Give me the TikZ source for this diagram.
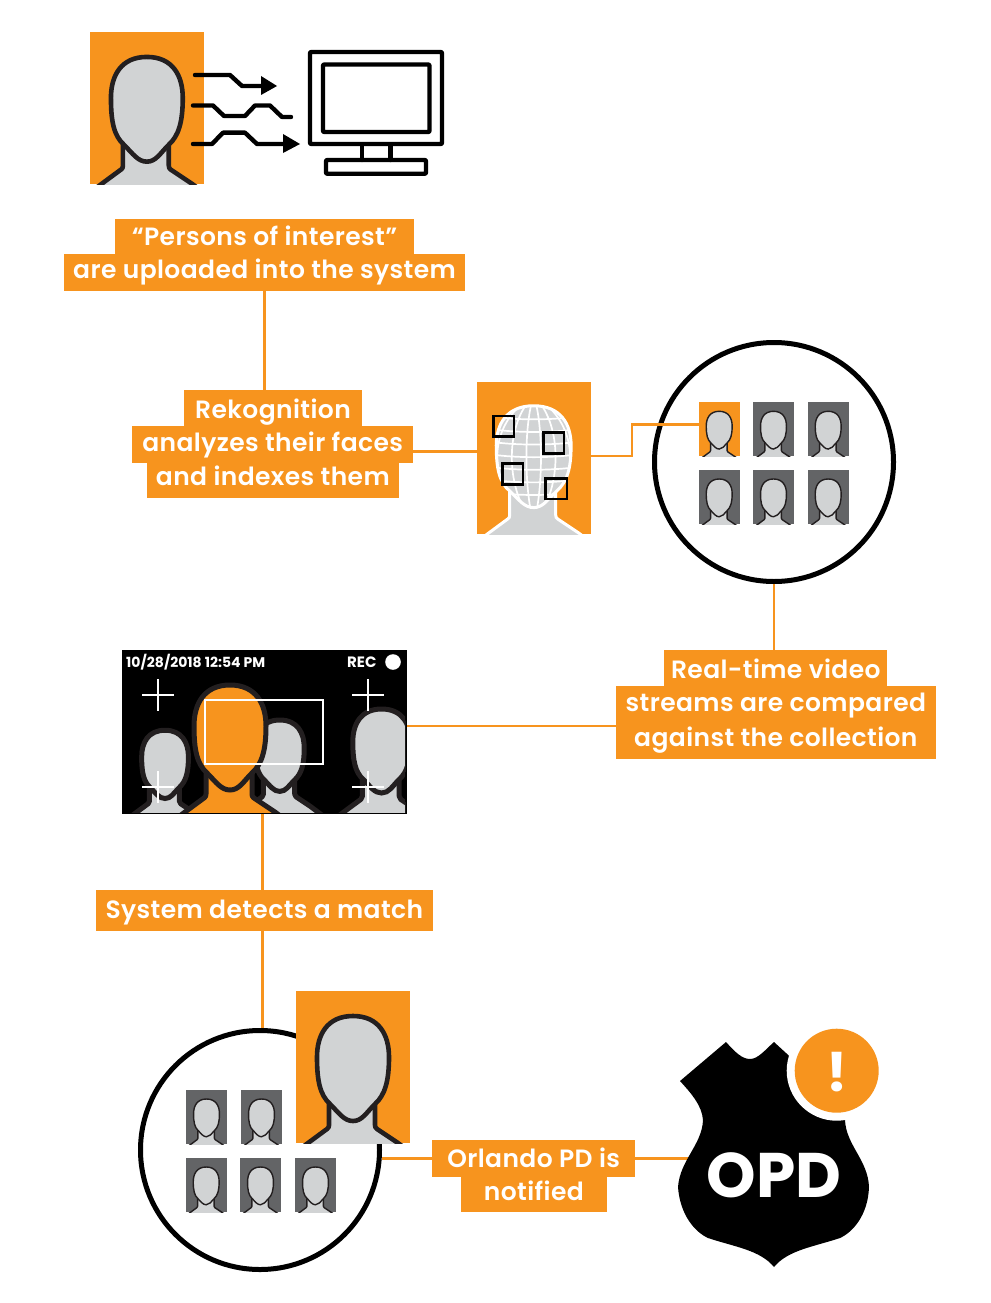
\documentclass[tikz,border=0pt]{standalone}
\usepackage{fontspec}
\setmainfont{Poppins}
\newfontfamily\labfont{Poppins}[UprightFont=* SemiBold,LetterSpace=1.6]
\newfontfamily\boldfont{Poppins}[BoldFont={* Bold}]
\definecolor{org}{HTML}{F7941E}
\definecolor{lgray}{HTML}{D1D3D4}
\definecolor{dgray}{HTML}{636466}
\definecolor{ink}{HTML}{231F20}
\tikzset{
  facepath/.style={insert path={(57,25) .. controls (83,25) and (93,44) .. (93,66) .. controls (93,90) and (89,104) .. (79,113) .. controls (70,122) and (66,130) .. (57,130) .. controls (48,130) and (43,122) .. (34,113) .. controls (24,104) and (21,90) .. (21,66) .. controls (21,44) and (31,25) .. (57,25) -- cycle}},
  bodypath/.style={insert path={(-12,170) -- (12,152) -- (31,138) .. controls (32.5,137) and (33,136) .. (33,134) -- (33,108) -- (79,108) -- (79,134) .. controls (79,136) and (79.5,137) .. (81,138) -- (102,152) -- (126,170)}},
  labelbox/.style={fill=org,text=white,inner sep=0pt,outer sep=0pt,text depth=8pt,font=\labfont\fontsize{25}{30}\selectfont},
  imgbox/.style={inner sep=0pt,outer sep=0pt,anchor=north west},
  wire/.style={draw=org,line width=2.8pt},
  ring/.style={circle,draw=black,fill=white,line width=5pt,minimum size=239pt,inner sep=0pt},
  blackline/.style={draw=black,line width=4.4pt,line join=round,line cap=round},
}
\newcommand\labelnode[7]{\pgfmathsetmacro\hh{2*(#6-(#4+#5)/2)+8}%
\node[labelbox,text height=\hh pt,minimum width={(#3-#2)*1pt},minimum height={(#5-#4)*1pt}] (#1) at ({(#2+#3)/2},{(#4+#5)/2}) {#7};}
\newcommand\person[7]{\begin{scope}[shift={(#1,#2)},scale=#3]
  \path[bodypath,fill=#4];
  \path[bodypath,draw=#5,line width=#6pt,line join=round];
  \path[facepath,fill=#4,draw=#5,line width=#7pt];
\end{scope}}
\newcommand\portrait[8]{\begin{scope}
  \node[imgbox,fill=#4,minimum width={#7*1pt},minimum height={#8*1pt}] (#1) at (#2,#3) {};
  \clip (#2,#3) rectangle ++(#7,#8);
  \person{#2}{#3}{#7/114}{lgray}{#5}{#6}{#6}
\end{scope}}
\newcommand\thumb[4]{\portrait{#1}{#2}{#3}{#4}{ink}{1.4}{41}{54}}
\begin{document}
\begin{tikzpicture}[x=1pt,y=-1pt]
\useasboundingbox (0,0) rectangle (990,1303);
\fill[white] (0,0) rectangle (990,1303);
% step 1
\portrait{p1}{90}{32}{org}{ink}{4.6}{113.7}{152}
\draw[blackline] (195,75) -- (230,75) -- (242,86) -- (263,86);
\fill[black] (261,76) -- (277,86) -- (261,95) -- cycle;
\draw[blackline] (193,105.5) -- (213,105.5) -- (224,116) -- (245,116) -- (255,105.5) -- (270,105.5) -- (282,117) -- (291,117);
\draw[blackline] (193,144) -- (212,144) -- (223,132.7) -- (245,132.7) -- (257,144) -- (284,144);
\fill[black] (283,134) -- (300,144) -- (283,153) -- cycle;
\draw[blackline,rounded corners=1pt] (310,52) rectangle (442,144);
\draw[blackline,rounded corners=1pt] (323,64.5) rectangle (429.5,132);
\draw[blackline] (362,146) -- (362,160);
\draw[blackline] (390.5,146) -- (390.5,160);
\draw[blackline,rounded corners=1pt] (326,160) rectangle (426,173.7);
% circles and portraits
\node[ring] (c1) at (774,462) {};
\thumb{t1}{698.7}{402.3}{org}
\thumb{t2}{753}{402.3}{dgray}
\thumb{t3}{807.7}{402.3}{dgray}
\thumb{t4}{698.7}{470}{dgray}
\thumb{t5}{753}{470}{dgray}
\thumb{t6}{807.7}{470}{dgray}
\node[ring] (c2) at (260,1150) {};
\thumb{u1}{186}{1090}{dgray}
\thumb{u2}{241}{1090}{dgray}
\thumb{u3}{185.7}{1158}{dgray}
\thumb{u4}{240}{1158}{dgray}
\thumb{u5}{295}{1158}{dgray}
\portrait{p3}{296}{991}{org}{ink}{4.6}{114}{152}
% mesh face
\node[imgbox,fill=org,minimum width=114pt,minimum height=152pt] (face) at (476.7,382) {};
\begin{scope}
  \clip (476.7,382) rectangle ++(114,152);
  \begin{scope}[shift={(476.7,381)}]
    \path[bodypath,fill=lgray];
    \path[bodypath,draw=white,line width=3pt];
  \end{scope}
  \begin{scope}[shift={(474.4,381.5)},xscale=1.04,yscale=.97]
    \path[facepath,fill=lgray];
    \begin{scope}
      \clip[facepath];
      \foreach \yy in {36,49,62,75,88,101,114,127}
        \draw[white,line width=1.7pt] (15,\yy) .. controls (40,\yy+4) and (74,\yy+4) .. (100,\yy);
      \foreach \kk in {-2.5,-1.5,-0.5,0.5,1.5,2.5}
        \draw[white,line width=1.7pt] ({57+\kk*4},22) .. controls ({57+\kk*17},50) and ({57+\kk*17},100) .. ({57+\kk*6},132);
    \end{scope}
    \path[facepath,draw=white,line width=3pt];
  \end{scope}
\end{scope}
\draw[black,line width=2.4pt] (493.5,416) rectangle (514,436.5);
\draw[black,line width=2.4pt] (543.5,432.5) rectangle (564,453.5);
\draw[black,line width=2.4pt] (502.5,463.5) rectangle (523,484.5);
\draw[black,line width=2.4pt] (545.5,478.5) rectangle (567,499);
% camera
\node[imgbox,fill=black,minimum width=285pt,minimum height=164pt] (cam) at (122,650) {};
\begin{scope}
  \clip (124,652) rectangle (405,812);
  \person{128}{714}{.65}{lgray}{ink}{5}{5}
  \person{241}{703}{.68}{lgray}{ink}{5}{5}
  \person{173}{660}{1}{org}{ink}{5}{5}
  \person{336}{689}{.8}{lgray}{ink}{5}{5}
\end{scope}
\draw[white,line width=2.2pt] (205,700) rectangle (323,764);
\foreach \cx/\cy in {158/695,368/695,158/787,368/787}{
  \draw[white,line width=2.2pt] (\cx-16,\cy) -- (\cx+16,\cy);
  \draw[white,line width=2.2pt] (\cx,\cy-16) -- (\cx,\cy+16);
}
\node[anchor=base west,inner sep=0pt,text=white,font=\boldfont\bfseries\fontsize{14}{16}\selectfont] (stamp) at (126,667) {10/28/2018 12:54 PM};
\node[anchor=base west,inner sep=0pt,text=white,font=\boldfont\bfseries\fontsize{15}{16}\selectfont] (rec) at (347,667) {REC};
\fill[white] (393,662) circle (7.8);
% labels
\coordinate (faceL) at (477,451.5);
\coordinate (faceR) at (590.7,456);
\coordinate (elbow) at (632,424.3);
\coordinate (camR) at (407,726);
\coordinate (camB) at (262.5,814);
\coordinate (badgeL) at (690,1159);
\labelnode{a1}{115}{414}{219}{254}{245}{“Persons of interest”}
\labelnode{a2}{64}{465}{254}{291}{278}{are uploaded into the system}
\labelnode{b1}{184.3}{361.7}{390}{426}{418}{Rekognition}
\labelnode{b2}{132.3}{413}{426}{463}{451}{analyzes their faces}
\labelnode{b3}{146.7}{399}{463}{498}{485.7}{and indexes them}
\labelnode{d1}{664.3}{887.3}{650}{686}{678}{Real-time video}
\labelnode{d2}{616}{935.7}{686}{722}{711.7}{streams are compared}
\labelnode{d3}{616}{935.7}{722}{758.5}{746}{against the collection}
\labelnode{e1}{96}{432.7}{890}{931}{918}{System detects a match}
\labelnode{f1}{432.3}{635}{1140}{1176.7}{1167}{Orlando PD is}
\labelnode{f2}{461}{606.7}{1176.7}{1212}{1200.7}{notified}
% connectors
\draw[wire] (a2.south) -- (a2.south |- b1.north);
\draw[wire] (faceL -| b2.east) -- (faceL);
\draw[wire] (faceR) -- (faceR -| elbow) -- (elbow) -- (elbow -| t1.west);
\draw[wire] (c1.south) -- (c1.south |- d1.north);
\draw[wire] (camR) -- (camR -| d3.west);
\draw[wire] (camB) -- (camB |- e1.north);
\draw[wire] (camB |- e1.south) -- (camB |- c2.north);
\draw[wire] (c2.-4.3) -- (c2.-4.3 -| f1.west);
\draw[wire] (f1.east) -- (badgeL |- f1.east);
% badge
\fill[black] (726,1042) .. controls (735,1052) and (742,1059) .. (750,1059) .. controls (758,1059) and (765,1050) .. (774,1042) -- (798,1064) -- (822,1042) -- (868,1081) .. controls (858,1092) and (846,1105) .. (845,1120) .. controls (846,1145) and (868,1160) .. (869,1187) .. controls (868,1215) and (853,1232) .. (840,1238) .. controls (813,1247) and (788,1250) .. (774,1267) .. controls (760,1250) and (735,1247) .. (708,1238) .. controls (695,1232) and (680,1215) .. (678,1187) .. controls (680,1160) and (702,1145) .. (703,1120) .. controls (702,1105) and (690,1092) .. (680,1081) -- cycle;
\fill[white] (836.7,1070.7) circle (50);
\fill[org] (836.7,1070.7) circle (42);
\node[anchor=base,inner sep=0pt,text=white,font=\boldfont\bfseries\fontsize{63}{70}\selectfont] (opd) at (774,1197) {OPD};
\node[anchor=base,inner sep=0pt,text=white,font=\boldfont\bfseries\fontsize{54}{60}\selectfont] (bang) at (837,1091) {!};
\end{tikzpicture}
\end{document}
